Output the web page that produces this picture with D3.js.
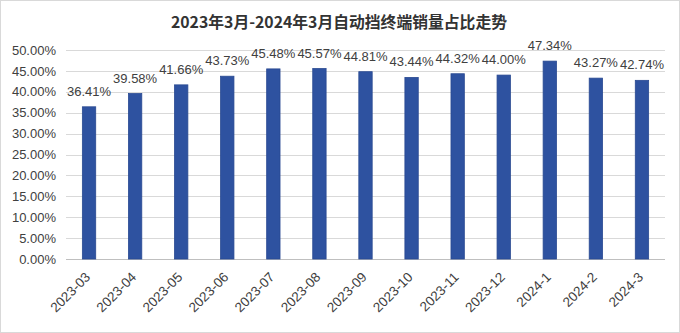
<!DOCTYPE html>
<html>
<head>
<meta charset="utf-8">
<script src="https://cdn.jsdelivr.net/npm/d3@7"></script>
<style>
  body { margin: 0; background: #fff; }
  svg { display: block; font-family: "Liberation Sans", Arial, sans-serif; }
</style>
</head>
<body>
<svg id="chart" width="680" height="333"></svg>
<script>
var months = ['2023-03', '2023-04', '2023-05', '2023-06', '2023-07', '2023-08', '2023-09',
              '2023-10', '2023-11', '2023-12', '2024-1', '2024-2', '2024-3'];
var shares = [36.41, 39.58, 41.66, 43.73, 45.48, 45.57, 44.81, 43.44, 44.32, 44.00, 47.34, 43.27, 42.74];
var yTicks = [0, 5, 10, 15, 20, 25, 30, 35, 40, 45, 50];
var title = '2023年3月-2024年3月自动挡终端销量占比走势';

var svg = d3.select('#chart');
var W = 680, H = 333;
var margin = { top: 50, right: 15, bottom: 74, left: 66 };

// outer border
svg.append('rect')
  .attr('x', 0.5).attr('y', 0.5)
  .attr('width', W - 1).attr('height', H - 1)
  .attr('fill', '#fff').attr('stroke', '#d9d9d9');

var x = d3.scaleBand()
  .domain(months)
  .range([margin.left, W - margin.right])
  .paddingInner(0.71)
  .paddingOuter(0.355);

var y = d3.scaleLinear()
  .domain([0, 50])
  .range([H - margin.bottom, margin.top]);

// gridlines
svg.append('g')
  .selectAll('line')
  .data(yTicks)
  .enter().append('line')
  .attr('x1', margin.left).attr('x2', W - margin.right)
  .attr('y1', function(d){ return Math.round(y(d)) + 0.5; })
  .attr('y2', function(d){ return Math.round(y(d)) + 0.5; })
  .attr('stroke', function(d){ return d === 0 ? '#bfbfbf' : '#d9d9d9'; })
  .attr('stroke-width', 1);

// y axis labels
var yAxis = d3.axisLeft(y)
  .tickValues(yTicks)
  .tickSize(0)
  .tickPadding(10)
  .tickFormat(function(d){ return d.toFixed(2) + '%'; });

var gy = svg.append('g')
  .attr('transform', 'translate(' + margin.left + ',0)')
  .call(yAxis);
gy.select('.domain').remove();
gy.selectAll('text')
  .attr('fill', '#404040')
  .style('font-size', '13px')
  .style('font-family', '"Liberation Sans", Arial, sans-serif');

// bars
svg.append('g')
  .selectAll('rect')
  .data(shares)
  .enter().append('rect')
  .attr('x', function(d, i){ return x(months[i]); })
  .attr('y', function(d){ return y(d); })
  .attr('width', x.bandwidth())
  .attr('height', function(d){ return y(0) - y(d); })
  .attr('fill', '#2E52A0')
  .attr('stroke', '#2A4A92')
  .attr('stroke-width', 0.8);

// value labels
svg.append('g')
  .selectAll('text')
  .data(shares)
  .enter().append('text')
  .attr('x', function(d, i){ return x(months[i]) + x.bandwidth() / 2; })
  .attr('y', function(d){ return y(d) - 11; })
  .attr('text-anchor', 'middle')
  .attr('fill', '#404040')
  .style('font-size', '13px')
  .text(function(d){ return d.toFixed(2) + '%'; });

// x axis labels (rotated)
var xAxis = d3.axisBottom(x).tickSize(0).tickPadding(0);
var gx = svg.append('g')
  .attr('transform', 'translate(0,' + y(0) + ')')
  .call(xAxis);
gx.select('.domain').remove();
gx.selectAll('text')
  .attr('fill', '#404040')
  .style('font-size', '13.5px')
  .style('font-family', '"Liberation Sans", Arial, sans-serif')
  .attr('text-anchor', 'end')
  .attr('dy', '0')
  .attr('transform', 'translate(2,19) rotate(-45)');

// title
svg.append('text')
  .attr('x', 339)
  .attr('y', 28)
  .attr('text-anchor', 'middle')
  .attr('fill', '#333')
  .style('font-size', '15.8px')
  .style('font-weight', 'bold')
  .style('font-family', '"Noto Sans CJK SC", "Liberation Sans", sans-serif')
  .text(title);
</script>
</body>
</html>
